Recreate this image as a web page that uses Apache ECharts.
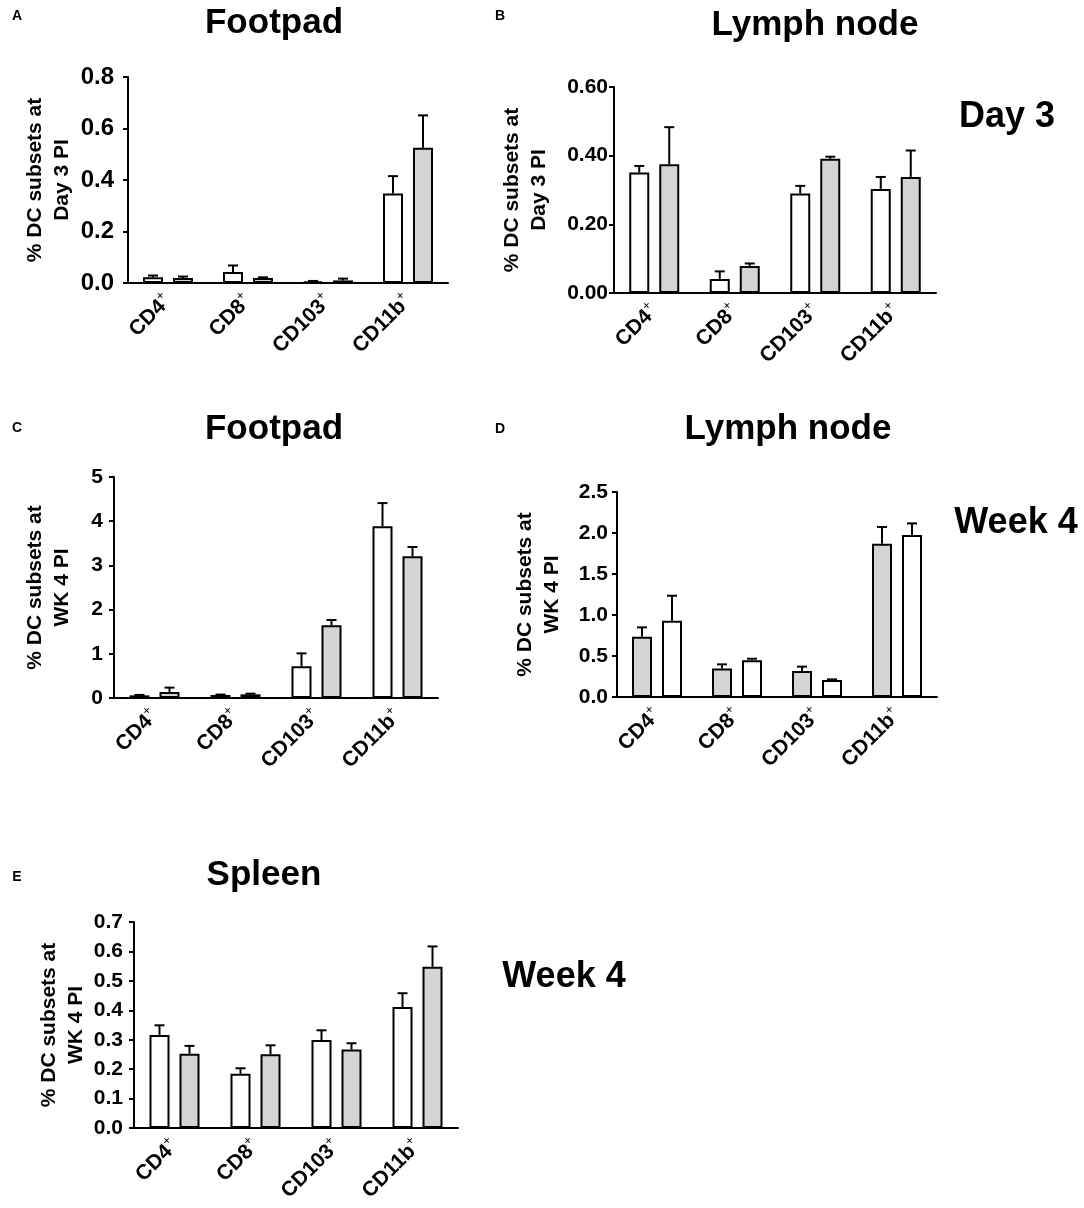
<!DOCTYPE html>
<html>
<head>
<meta charset="utf-8">
<script src="https://cdn.jsdelivr.net/npm/echarts@6/dist/echarts.min.js"></script>
<style>
  html, body { margin: 0; padding: 0; background: #fff; }
  #main { width: 1084px; height: 1208px; }
</style>
</head>
<body>
<div id="main"></div>
<script>
var categories = ['CD4', 'CD8', 'CD103', 'CD11b'];

// A - footpad, day 3
var aWhite = [0.022, 0.043, 0.006, 0.348];
var aWhiteSem = [0.007, 0.025, 0.002, 0.067];
var aGray = [0.019, 0.019, 0.010, 0.525];
var aGraySem = [0.006, 0.003, 0.007, 0.126];

// B - lymph node, day 3
var bWhite = [0.351, 0.041, 0.290, 0.303];
var bWhiteSem = [0.019, 0.022, 0.022, 0.035];
var bGray = [0.375, 0.079, 0.391, 0.338];
var bGraySem = [0.108, 0.007, 0.006, 0.077];

// C - footpad, week 4
var cWhite = [0.06, 0.068, 0.72, 3.885];
var cWhiteSem = [0.01, 0.01, 0.29, 0.525];
var cGray = [0.136, 0.083, 1.645, 3.206];
var cGraySem = [0.099, 0.015, 0.12, 0.21];

// D - lymph node, week 4 (gray first here)
var dGray = [0.735, 0.349, 0.317, 1.870];
var dGraySem = [0.114, 0.049, 0.053, 0.203];
var dWhite = [0.930, 0.447, 0.207, 1.976];
var dWhiteSem = [0.305, 0.020, 0.008, 0.141];

// E - spleen, week 4
var eWhite = [0.316, 0.184, 0.299, 0.411];
var eWhiteSem = [0.033, 0.019, 0.033, 0.047];
var eGray = [0.252, 0.251, 0.267, 0.548];
var eGraySem = [0.027, 0.030, 0.021, 0.069];

var yTicksA = [0, 0.8, 0.2];
var yTicksB = [0, 0.6, 0.2];
var yTicksC = [0, 5, 1];
var yTicksD = [0, 2.5, 0.5];
var yTicksE = [0, 0.7, 0.1];

var FONT = 'Liberation Sans';
var GRAY = '#d4d4d4';

var myChart = echarts.init(document.getElementById('main'));

var grids = [
    { left: 128, top: 77, width: 320, height: 206 },
    { left: 614, top: 87, width: 322, height: 206 },
    { left: 114, top: 477, width: 324, height: 221 },
    { left: 617, top: 492, width: 320, height: 205 },
    { left: 134, top: 922, width: 324, height: 206 }
];

function xAxisFor(idx) {
    return {
        type: 'category',
        gridIndex: idx,
        data: categories,
        axisLine: { lineStyle: { color: '#000', width: 2 } },
        axisTick: { alignWithLabel: true, length: 5, lineStyle: { color: '#000', width: 2 } },
        axisLabel: {
            rotate: 45,
            margin: 15,
            interval: 0,
            formatter: function (v) { return '{m|' + v + '}{s|+}'; },
            rich: {
                m: { fontFamily: FONT, fontSize: 21, fontWeight: 'bold', color: '#000', lineHeight: 26 },
                s: { fontFamily: FONT, fontSize: 13, color: '#000', verticalAlign: 'top' }
            }
        }
    };
}

function yAxisFor(idx, ticks, digits, name, gap, fs, margin) {
    return {
        type: 'value',
        gridIndex: idx,
        min: ticks[0],
        max: ticks[1],
        interval: ticks[2],
        splitLine: { show: false },
        axisLine: { show: true, lineStyle: { color: '#000', width: 2 } },
        axisTick: { show: true, length: 5, lineStyle: { color: '#000', width: 2 } },
        axisLabel: {
            margin: margin,
            fontFamily: FONT,
            fontSize: fs,
            fontWeight: 'bold',
            color: '#000',
            formatter: function (v) { return v.toFixed(digits); }
        },
        name: name,
        nameLocation: 'middle',
        nameRotate: 90,
        nameGap: gap,
        nameTextStyle: { fontFamily: FONT, fontSize: 21, fontWeight: 'bold', color: '#000', lineHeight: 27 }
    };
}

function barSeries(idx, values, color) {
    return {
        type: 'bar',
        xAxisIndex: idx,
        yAxisIndex: idx,
        barWidth: 20,
        barGap: '50%',
        data: values,
        itemStyle: { color: color, borderColor: '#000', borderWidth: 2 },
        silent: true
    };
}

function errorSeries(idx, means, sems, shift) {
    return {
        type: 'custom',
        xAxisIndex: idx,
        yAxisIndex: idx,
        silent: true,
        z: 3,
        data: means.map(function (m, i) { return [i, m, m + sems[i]]; }),
        renderItem: function (params, api) {
            var lo = api.coord([api.value(0), api.value(1)]);
            var hi = api.coord([api.value(0), api.value(2)]);
            var x = lo[0] + shift;
            var st = { stroke: '#000', lineWidth: 2 };
            return {
                type: 'group',
                children: [
                    { type: 'line', shape: { x1: x, y1: lo[1], x2: x, y2: hi[1] }, style: st },
                    { type: 'line', shape: { x1: x - 5, y1: hi[1], x2: x + 5, y2: hi[1] }, style: st }
                ]
            };
        }
    };
}

function label(text, x, y, size) {
    return {
        type: 'text',
        x: x,
        y: y,
        style: {
            text: text,
            font: 'bold ' + size + 'px "' + FONT + '"',
            fill: '#000',
            textAlign: 'center',
            textVerticalAlign: 'middle'
        }
    };
}

option = {
    animation: false,
    backgroundColor: '#fff',
    grid: grids,
    xAxis: [xAxisFor(0), xAxisFor(1), xAxisFor(2), xAxisFor(3), xAxisFor(4)],
    yAxis: [
        yAxisFor(0, yTicksA, 1, '% DC subsets at\nDay 3 PI', 52, 24, 14),
        yAxisFor(1, yTicksB, 2, '% DC subsets at\nDay 3 PI', 61, 21, 6),
        yAxisFor(2, yTicksC, 0, '% DC subsets at\nWK 4 PI', 38, 21, 11),
        yAxisFor(3, yTicksD, 1, '% DC subsets at\nWK 4 PI', 51, 21, 9),
        yAxisFor(4, yTicksE, 1, '% DC subsets at\nWK 4 PI', 44, 21, 11)
    ],
    series: [
        barSeries(0, aWhite, '#fff'), barSeries(0, aGray, GRAY),
        barSeries(1, bWhite, '#fff'), barSeries(1, bGray, GRAY),
        barSeries(2, cWhite, '#fff'), barSeries(2, cGray, GRAY),
        barSeries(3, dGray, GRAY), barSeries(3, dWhite, '#fff'),
        barSeries(4, eWhite, '#fff'), barSeries(4, eGray, GRAY),
        errorSeries(0, aWhite, aWhiteSem, -15), errorSeries(0, aGray, aGraySem, 15),
        errorSeries(1, bWhite, bWhiteSem, -15), errorSeries(1, bGray, bGraySem, 15),
        errorSeries(2, cWhite, cWhiteSem, -15), errorSeries(2, cGray, cGraySem, 15),
        errorSeries(3, dGray, dGraySem, -15), errorSeries(3, dWhite, dWhiteSem, 15),
        errorSeries(4, eWhite, eWhiteSem, -15), errorSeries(4, eGray, eGraySem, 15)
    ],
    graphic: [
        label('A', 17, 16, 14), label('B', 500, 16, 14), label('C', 17, 428, 14),
        label('D', 500, 429, 14), label('E', 17, 877, 14),
        label('Footpad', 274, 23, 35), label('Lymph node', 815, 25, 35),
        label('Footpad', 274, 429, 35), label('Lymph node', 788, 429, 35),
        label('Spleen', 264, 875, 35),
        label('Day 3', 1007, 117, 36), label('Week 4', 1016, 523, 36),
        label('Week 4', 564, 977, 36)
    ]
};

if (option && typeof option === 'object') {
    myChart.setOption(option, true);
}
</script>
</body>
</html>
